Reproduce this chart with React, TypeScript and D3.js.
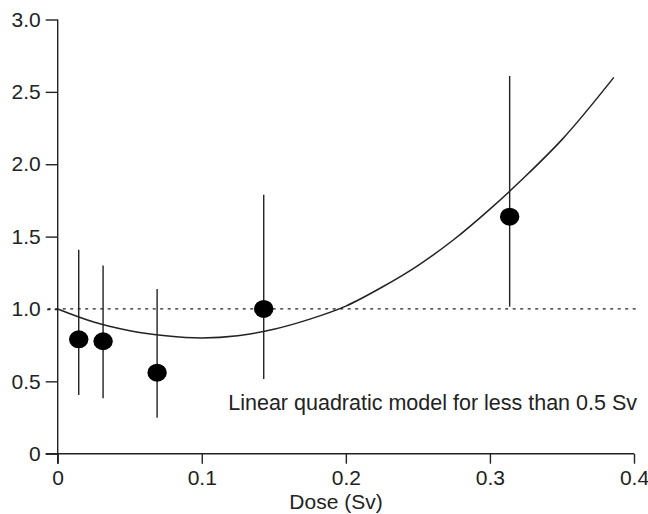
import React, { useEffect, useRef } from "react";
import * as d3 from "d3";

const W = 648,
  H = 514;
const margin = { top: 19.5, right: 14, bottom: 60.3, left: 57.7 };

// measured points with error bars
const doses = [0.0146, 0.0315, 0.069, 0.143, 0.3137];
const means = [0.79, 0.777, 0.56, 1.0, 1.638];
const lowers = [0.405, 0.383, 0.249, 0.516, 1.016];
const uppers = [1.41, 1.3, 1.138, 1.79, 2.61];

// linear quadratic model curve
const curveDose = [0, 0.025, 0.05, 0.075, 0.1, 0.125, 0.15, 0.175, 0.2, 0.225, 0.25, 0.275, 0.3, 0.325, 0.35, 0.386];
const curveValue = [1.0, 0.91, 0.85, 0.815, 0.8, 0.815, 0.86, 0.93, 1.02, 1.15, 1.3, 1.48, 1.69, 1.92, 2.17, 2.6];

const xTicks = [0, 0.1, 0.2, 0.3, 0.4];
const yTicks = [0, 0.5, 1.0, 1.5, 2.0, 2.5, 3.0];
const referenceLevel = 1.0;
const note = "Linear quadratic model for less than 0.5 Sv";
const xTitle = "Dose (Sv)";

const font = "'Liberation Sans', Arial, Helvetica, sans-serif";
const ink = "#222";

export default function App() {
  const ref = useRef<SVGSVGElement>(null);

  useEffect(() => {
    const svg = d3.select(ref.current);
    svg.selectAll("*").remove();

    const x = d3.scaleLinear().domain([0, 0.4]).range([margin.left, W - margin.right]);
    const y = d3.scaleLinear().domain([0, 3]).range([H - margin.bottom, margin.top]);

    // dotted reference line at 1.0
    svg
      .append("line")
      .attr("x1", margin.left - 10)
      .attr("x2", W - 12)
      .attr("y1", y(referenceLevel))
      .attr("y2", y(referenceLevel))
      .attr("stroke", ink)
      .attr("stroke-width", 1.2)
      .attr("stroke-dasharray", "3,4.5");

    // y axis
    const yAxis = d3
      .axisLeft(y)
      .tickValues(yTicks)
      .tickSize(12)
      .tickPadding(5)
      .tickFormat((d) => (d === 0 ? "0" : d3.format(".1f")(d as number)));
    const gy = svg.append("g").attr("transform", `translate(${margin.left},0)`).call(yAxis);
    gy.select(".domain").attr("d", `M0,${y(3)}V${y(0) + 10}`);
    gy.selectAll(".tick")
      .filter((d) => d === referenceLevel)
      .select("line")
      .attr("stroke-dasharray", "3,4.5");

    // x axis
    const xAxis = d3
      .axisBottom(x)
      .tickValues(xTicks)
      .tickSize(10)
      .tickPadding(6)
      .tickFormat((d) => (d === 0 ? "0" : d3.format(".1f")(d as number)));
    const gx = svg.append("g").attr("transform", `translate(0,${y(0)})`).call(xAxis);
    gx.select(".domain").attr("d", `M${margin.left - 12},0H${x(0.4)}`);

    [gx, gy].forEach((g) => {
      g.selectAll("line, path").attr("stroke", ink).attr("stroke-width", 1.4);
      g.selectAll("text")
        .attr("fill", ink)
        .style("font-family", font)
        .style("font-size", "21px");
    });

    // x axis title
    svg
      .append("text")
      .attr("x", 336)
      .attr("y", H - 5)
      .attr("text-anchor", "middle")
      .attr("fill", ink)
      .style("font-family", font)
      .style("font-size", "21px")
      .text(xTitle);

    // model curve
    const line = d3
      .line<number>()
      .x((d) => x(d))
      .y((_, i) => y(curveValue[i]))
      .curve(d3.curveMonotoneX);
    svg
      .append("path")
      .attr("d", line(curveDose))
      .attr("fill", "none")
      .attr("stroke", ink)
      .attr("stroke-width", 1.5);

    // error bars
    svg
      .append("g")
      .selectAll("line")
      .data(doses)
      .join("line")
      .attr("x1", (d) => x(d))
      .attr("x2", (d) => x(d))
      .attr("y1", (_, i) => y(lowers[i]))
      .attr("y2", (_, i) => y(uppers[i]))
      .attr("stroke", ink)
      .attr("stroke-width", 1.4);

    // points
    svg
      .append("g")
      .selectAll("ellipse")
      .data(doses)
      .join("ellipse")
      .attr("cx", (d) => x(d))
      .attr("cy", (_, i) => y(means[i]))
      .attr("rx", 9.7)
      .attr("ry", 9)
      .attr("fill", "#000");

    // annotation
    svg
      .append("text")
      .attr("x", 637)
      .attr("y", 410)
      .attr("text-anchor", "end")
      .attr("fill", ink)
      .style("font-family", font)
      .style("font-size", "21.5px")
      .text(note);
  }, []);

  return (
    <svg
      ref={ref}
      width={W}
      height={H}
      style={{ position: "absolute", left: 0, top: 0, background: "#fff" }}
    />
  );
}
